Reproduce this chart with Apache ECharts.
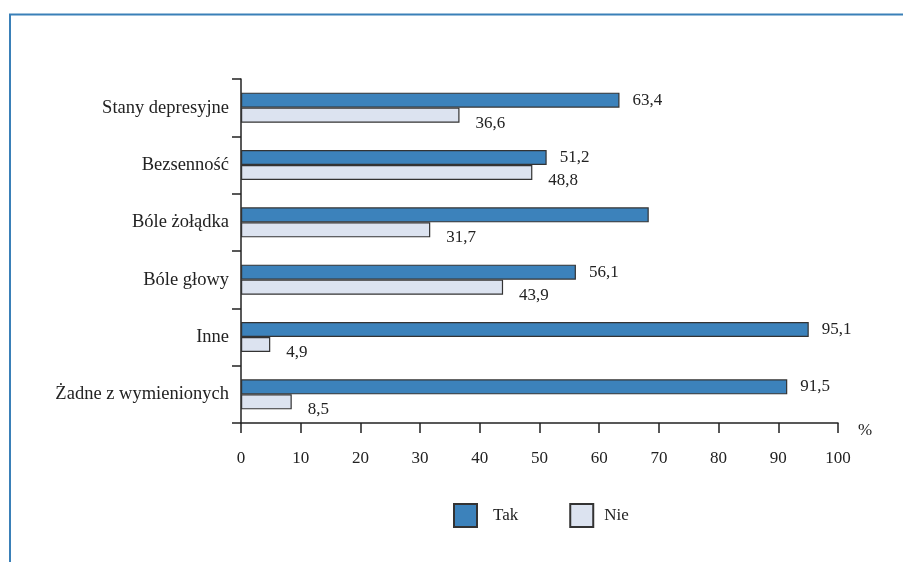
<!DOCTYPE html>
<html><head><meta charset="utf-8">
<script src="https://cdn.jsdelivr.net/npm/echarts@6/dist/echarts.min.js"></script>
<style>html,body{margin:0;padding:0;background:#fff}#c{width:903px;height:562px}</style>
</head><body><div id="c"></div>
<script>
const categories = ['Stany depresyjne','Bezsenność','Bóle żołądka','Bóle głowy','Inne','Żadne z wymienionych'];
const takValues = [63.4, 51.2, 68.3, 56.1, 95.1, 91.5];
const nieValues = [36.6, 48.8, 31.7, 43.9, 4.9, 8.5];
const takLabelShown = [true, true, false, true, true, true];
const xTicks = [0,10,20,30,40,50,60,70,80,90,100];
const seriesNames = ['Tak','Nie'];

const font = 'Liberation Serif';
const fmt = v => String(v).replace('.', ',');
const chart = echarts.init(document.getElementById('c'));
chart.setOption({
  animation: false,
  textStyle: {fontFamily: font, color: '#222'},
  grid: {left: 241, right: 65, top: 79, bottom: 139, containLabel: false},
  legend: {
    data: [
      {name: seriesNames[0], textStyle: {padding: [0,0,0,11]}},
      {name: seriesNames[1], textStyle: {padding: [0,0,0,6]}}
    ],
    left: 448, top: 498, itemWidth: 23, itemHeight: 23, itemGap: 51,
    textStyle: {fontFamily: font, fontSize: 17, color: '#222'},
    icon: 'rect'
  },
  xAxis: {
    type: 'value', min: xTicks[0], max: xTicks[xTicks.length-1], interval: 10,
    axisLine: {show: true, lineStyle: {color: '#222', width: 1.5}},
    axisTick: {show: true, length: 10, inside: false, lineStyle: {color: '#222', width: 1.5}},
    axisLabel: {fontFamily: font, fontSize: 17, color: '#222', margin: 27},
    splitLine: {show: false}
  },
  yAxis: {
    type: 'category', data: categories, inverse: true,
    axisLine: {show: true, lineStyle: {color: '#222', width: 1.5}},
    axisTick: {show: true, length: 9, lineStyle: {color: '#222', width: 1.5}},
    axisLabel: {fontFamily: font, fontSize: 18.5, color: '#222', margin: 12, padding: [6,0,0,0]}
  },
  graphic: [
    {type: 'line', shape: {x1: 9, y1: 14.5, x2: 903, y2: 14.5}, style: {stroke: '#3a80b8', lineWidth: 2}},
    {type: 'line', shape: {x1: 10, y1: 14, x2: 10, y2: 562}, style: {stroke: '#3a80b8', lineWidth: 2}},
    {type: 'text', left: 858, top: 422, style: {text: '%', font: '17px "Liberation Serif"', fill: '#222'}}
  ],
  series: [
    {
      name: seriesNames[0], type: 'bar', barWidth: 15, barGap: '0%',
      data: takValues.map((v, i) => ({value: v, label: {show: takLabelShown[i]}})),
      itemStyle: {color: '#3c82bb', borderColor: '#333', borderWidth: 1.2},
      label: {show: true, position: 'right', distance: 13, formatter: p => fmt(p.value),
        fontFamily: font, fontSize: 17, color: '#222'}
    },
    {
      name: seriesNames[1], type: 'bar', barWidth: 15,
      data: nieValues,
      itemStyle: {color: '#dce3f0', borderColor: '#333', borderWidth: 1.2},
      label: {show: true, position: 'right', distance: 16, offset: [0, 8], formatter: p => fmt(p.value),
        fontFamily: font, fontSize: 17, color: '#222'}
    }
  ]
});
</script></body></html>
